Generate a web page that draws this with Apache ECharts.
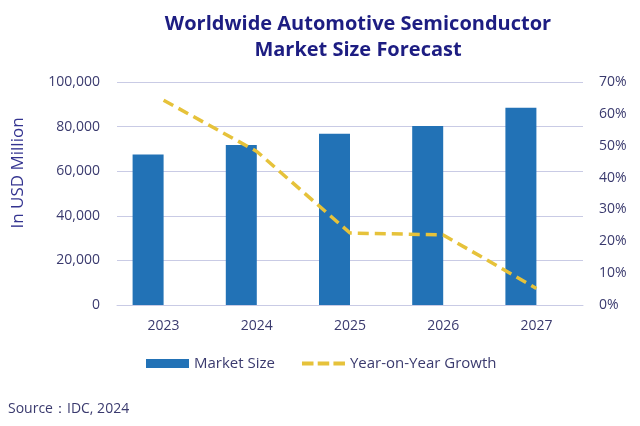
<!DOCTYPE html>
<html>
<head>
<meta charset="utf-8">
<script src="https://cdn.jsdelivr.net/npm/echarts@6/dist/echarts.min.js"></script>
<style>html,body{margin:0;padding:0;background:#fff}#c{width:640px;height:426px}</style>
</head>
<body>
<div id="c"></div>
<script>
const categories = ['2023', '2024', '2025', '2026', '2027'];
const marketSize = [67500, 71700, 76800, 80300, 88500];
const yoyGrowth = [64.3, 48.2, 22.6, 22.0, 5.2];
const leftTicks = [0, 20000, 40000, 60000, 80000, 100000];
const rightTicks = [0, 10, 20, 30, 40, 50, 60, 70];

const font = '"Open Sans", sans-serif';
const labelColor = '#3a3a6e';
const chart = echarts.init(document.getElementById('c'), null, {renderer: 'canvas'});
chart.setOption({
  animation: false,
  backgroundColor: '#fff',
  title: {
    text: 'Worldwide Automotive Semiconductor\nMarket Size Forecast',
    left: 353, top: 6, textAlign: 'center',
    textStyle: {fontFamily: font, fontSize: 20, fontWeight: 'bold', color: '#1d1d82', lineHeight: 26}
  },
  graphic: [
    {type: 'text', left: 8, top: 402, style: {text: 'Source\uFF1AIDC, 2024', font: '14px ' + font, fill: labelColor}},
    {type: 'text', x: 18, y: 173, rotation: Math.PI / 2, style: {text: 'In USD Million', font: '17px ' + font, fill: '#343490', align: 'center', verticalAlign: 'middle'}}
  ],
  legend: {
    data: [
      {name: 'Market Size', icon: 'rect'},
      {name: 'Year-on-Year Growth', icon: 'path://M0,0h11v4h-11z M15,0h11v4h-11z M30,0h11v4h-11z', itemStyle: {color: '#e6c23a'}}
    ],
    top: 351, left: 141, itemGap: 27, itemWidth: 43, itemHeight: 9,
    textStyle: {fontFamily: font, fontSize: 15, color: labelColor}
  },
  grid: {left: 117, right: 57, top: 82, bottom: 121, containLabel: false},
  xAxis: {
    type: 'category', data: categories,
    axisLine: {show: true, lineStyle: {color: '#c9cbe5'}},
    axisTick: {show: false},
    axisLabel: {fontFamily: font, fontSize: 14, color: labelColor, margin: 14}
  },
  yAxis: [
    {
      type: 'value', min: 0, max: 100000, interval: 20000,
      axisLine: {show: false}, axisTick: {show: false},
      splitLine: {lineStyle: {color: '#c9cbe5', width: 1}},
      axisLabel: {fontFamily: font, fontSize: 14, color: labelColor, margin: 17,
        formatter: v => v.toLocaleString('en-US')}
    },
    {
      type: 'value', min: 0, max: 70, interval: 10, position: 'right',
      axisLine: {show: false}, axisTick: {show: false}, splitLine: {show: false},
      axisLabel: {fontFamily: font, fontSize: 14, color: labelColor, margin: 16, formatter: '{value}%'}
    }
  ],
  series: [
    {
      name: 'Market Size', type: 'bar', data: marketSize, barWidth: 31, barGap: '0%',
      itemStyle: {color: '#2272b6'}
    },
    {
      name: 'spacer', type: 'bar', data: categories.map(() => null), barWidth: 31, barGap: '0%'
    },
    {
      name: 'Year-on-Year Growth', type: 'line', yAxisIndex: 1, data: yoyGrowth,
      symbol: 'none',
      lineStyle: {color: '#e6c23a', width: 3.5, type: [11, 6]},
      itemStyle: {color: '#e6c23a'}
    }
  ]
});
</script>
</body>
</html>
